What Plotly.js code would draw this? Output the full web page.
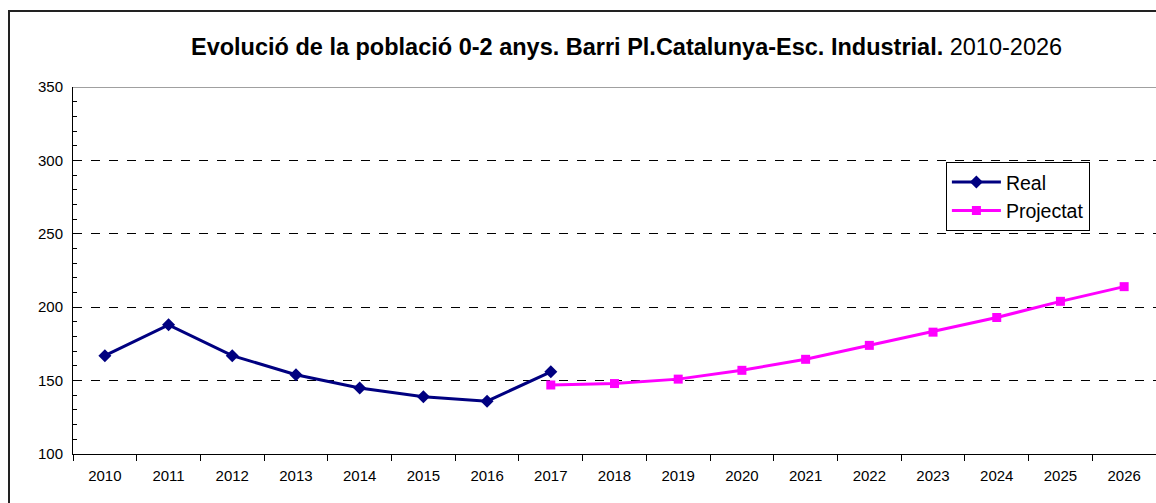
<!DOCTYPE html>
<html>
<head>
<meta charset="utf-8">
<script src="https://cdn.plot.ly/plotly-3.0.1.min.js"></script>
<style>
html,body{margin:0;padding:0;background:#fff;}
#wrap{position:absolute;left:0;top:0;width:1156px;height:503px;overflow:hidden;}
#frame{position:absolute;left:8px;top:10px;width:1170px;height:510px;border-left:2px solid #222;border-top:2px solid #222;pointer-events:none;z-index:5;}
#chart{position:absolute;left:0;top:0;width:1156px;height:503px;}
</style>
</head>
<body>
<div id="wrap"><div id="chart"></div><div id="frame"></div></div>
<script>
const years = ['2010','2011','2012','2013','2014','2015','2016','2017','2018','2019','2020','2021','2022','2023','2024','2025','2026'];
const realYears = ['2010','2011','2012','2013','2014','2015','2016','2017'];
const realValues = [167, 188, 167, 154, 145, 139, 136, 156];
const projYears = ['2017','2018','2019','2020','2021','2022','2023','2024','2025','2026'];
const projValues = [147, 148, 151, 157, 164.5, 174, 183, 193, 204, 214];

const FONT = 'Liberation Sans, Arial, sans-serif';

const traces = [
  {x: realYears, y: realValues, name: 'Real', type: 'scatter', mode: 'lines+markers',
   line: {color: '#000080', width: 3}, marker: {symbol: 'diamond', size: 10, color: '#000080'}},
  {x: projYears, y: projValues, name: 'Projectat', type: 'scatter', mode: 'lines+markers',
   line: {color: '#FF00FF', width: 3}, marker: {symbol: 'square', size: 9, color: '#FF00FF'}}
];

const layout = {
  width: 1156, height: 503,
  margin: {l: 73, r: 0, t: 87, b: 49},
  paper_bgcolor: 'rgba(0,0,0,0)', plot_bgcolor: '#fff',
  font: {family: FONT, size: 15, color: '#000'},
  title: {
    text: '<b>Evolució de la població 0-2 anys. Barri Pl.Catalunya-Esc. Industrial.</b> 2010-2026',
    font: {size: 23.5, family: FONT, color: '#000'},
    xref: 'container', yref: 'container', x: 0.542, xanchor: 'center', y: 0.908, yanchor: 'middle'
  },
  xaxis: {
    type: 'category', categoryorder: 'array', categoryarray: years,
    tickson: 'boundaries', ticks: 'outside', ticklen: 6, tickcolor: '#000',
    ticklabelstandoff: 8,
    showline: true, linecolor: '#000', linewidth: 1, showgrid: false,
    range: [-0.5, 16.5], tickfont: {size: 15, family: FONT}
  },
  yaxis: {
    range: [100, 350], dtick: 50, tick0: 100,
    ticks: '', ticklabelstandoff: 6,
    showline: true, linecolor: '#000', linewidth: 1,
    showgrid: true, gridcolor: '#000', griddash: 'dash', gridwidth: 1,
    zeroline: false, tickfont: {size: 15, family: FONT},
    minor: {dtick: 10, ticks: 'inside', ticklen: 4, tickcolor: '#000', showgrid: false}
  },
  shapes: [
    {type: 'line', xref: 'paper', yref: 'y', x0: 0, x1: 1, y0: 350, y1: 350,
     line: {color: '#808080', width: 1.5}}
  ],
  showlegend: true,
  legend: {
    x: 0.806, y: 0.796, xanchor: 'left', yanchor: 'top',
    bgcolor: '#fff', bordercolor: '#000', borderwidth: 1,
    font: {size: 19.5, family: FONT},
    tracegroupgap: 0, itemwidth: 49
  }
};

Plotly.newPlot('chart', traces, layout, {displayModeBar: false, staticPlot: true});
</script>
</body>
</html>
